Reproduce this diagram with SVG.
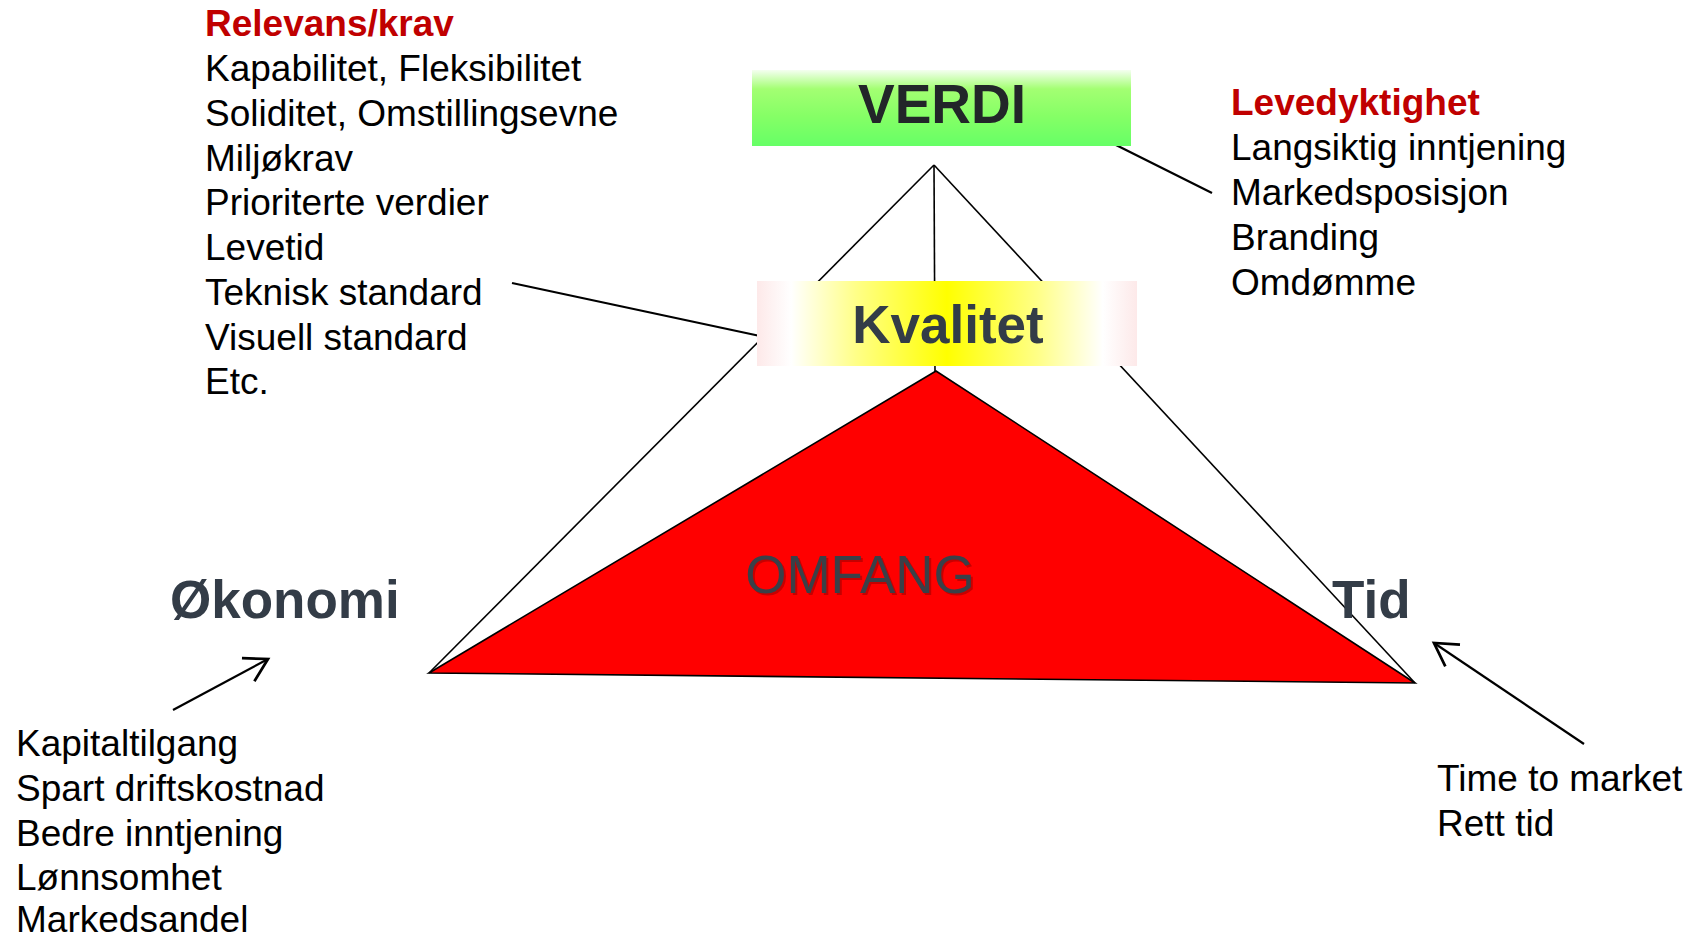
<svg xmlns="http://www.w3.org/2000/svg" width="1696" height="940" viewBox="0 0 1696 940">
  <style>
    text { font-family: "Liberation Sans", Arial, sans-serif; }
    .body { font-size: 37px; fill: #000000; }
    .head { font-size: 37px; font-weight: bold; fill: #c00000; }
    .title { font-size: 53px; font-weight: bold; fill: #333c47; }
    .edge { stroke: #000000; stroke-width: 1.6; fill: none; }
    .link { stroke: #000000; stroke-width: 2.2; fill: none; }
  </style>
  <defs>
    <linearGradient id="verdiFill" x1="0" y1="0" x2="0" y2="1">
      <stop offset="0" stop-color="#f4fff0"/>
      <stop offset="0.25" stop-color="#a3ff72"/>
      <stop offset="0.6" stop-color="#86ff66"/>
      <stop offset="1" stop-color="#66ff66"/>
    </linearGradient>
    <linearGradient id="kvalitetFill" x1="0" y1="0" x2="1" y2="0">
      <stop offset="0" stop-color="#fde9e9"/>
      <stop offset="0.09" stop-color="#ffffff"/>
      <stop offset="0.26" stop-color="#ffff88"/>
      <stop offset="0.5" stop-color="#ffff00"/>
      <stop offset="0.74" stop-color="#ffff88"/>
      <stop offset="0.91" stop-color="#ffffff"/>
      <stop offset="1" stop-color="#fde9e9"/>
    </linearGradient>
    <marker id="openArrow" markerUnits="userSpaceOnUse" markerWidth="30" markerHeight="30" viewBox="-20 -12 22 24" refX="0" refY="0" orient="auto">
      <path d="M-18,-10.5 L0,0 L-18,10.5" fill="none" stroke="#000000" stroke-width="2.2"/>
    </marker>
  </defs>

  <rect width="1696" height="940" fill="#ffffff"/>

  <!-- connectors -->
  <g id="connectors">
    <line class="edge" x1="934" y1="165" x2="429" y2="673"/>
    <line class="edge" x1="934" y1="165" x2="1415" y2="683"/>
    <line class="edge" x1="934" y1="165" x2="935" y2="371"/>
    <line class="link" x1="512" y1="283" x2="760" y2="336"/>
    <line class="link" x1="1112" y1="143" x2="1212" y2="193"/>
    <line class="link" x1="173" y1="710" x2="268" y2="659" marker-end="url(#openArrow)"/>
    <line class="link" x1="1584" y1="744" x2="1434" y2="643" marker-end="url(#openArrow)"/>
  </g>

  <!-- scope triangle -->
  <g id="omfang">
    <polygon points="936,371 429,673 1415,683" fill="#ff0000" stroke="#000000" stroke-width="1.6" stroke-linejoin="miter"/>
    <text x="862" y="595" font-size="53" text-anchor="middle" fill="#a00000" fill-opacity="0.6">OMFANG</text>
    <text x="860" y="593" font-size="53" text-anchor="middle" fill="#3a4048">OMFANG</text>
  </g>

  <g id="verdi">
    <rect x="752" y="70" width="379" height="76" fill="url(#verdiFill)"/>
    <text x="942" y="123" font-size="55" font-weight="bold" text-anchor="middle" fill="#222629">VERDI</text>
  </g>

  <g id="kvalitet">
    <rect x="757" y="281" width="380" height="85" fill="url(#kvalitetFill)"/>
    <text x="948" y="343" class="title" text-anchor="middle">Kvalitet</text>
  </g>

  <g id="okonomi">
    <text x="170" y="618" class="title">Økonomi</text>
  </g>

  <g id="tid">
    <text x="1332" y="618" class="title">Tid</text>
  </g>

  <g id="relevans">
    <text x="205" y="36" class="head">Relevans/krav</text>
    <text x="205" y="81" class="body">Kapabilitet, Fleksibilitet</text>
    <text x="205" y="126" class="body">Soliditet, Omstillingsevne</text>
    <text x="205" y="171" class="body">Miljøkrav</text>
    <text x="205" y="215" class="body">Prioriterte verdier</text>
    <text x="205" y="260" class="body">Levetid</text>
    <text x="205" y="305" class="body">Teknisk standard</text>
    <text x="205" y="350" class="body">Visuell standard</text>
    <text x="205" y="394" class="body">Etc.</text>
  </g>

  <g id="levedyktighet">
    <text x="1231" y="115" class="head">Levedyktighet</text>
    <text x="1231" y="160" class="body">Langsiktig inntjening</text>
    <text x="1231" y="205" class="body">Markedsposisjon</text>
    <text x="1231" y="250" class="body">Branding</text>
    <text x="1231" y="295" class="body">Omdømme</text>
  </g>

  <g id="okonomi-faktorer">
    <text x="16" y="756" class="body">Kapitaltilgang</text>
    <text x="16" y="801" class="body">Spart driftskostnad</text>
    <text x="16" y="846" class="body">Bedre inntjening</text>
    <text x="16" y="890" class="body">Lønnsomhet</text>
    <text x="16" y="932" class="body">Markedsandel</text>
  </g>

  <g id="tid-faktorer">
    <text x="1437" y="791" class="body">Time to market</text>
    <text x="1437" y="836" class="body">Rett tid</text>
  </g>
</svg>
